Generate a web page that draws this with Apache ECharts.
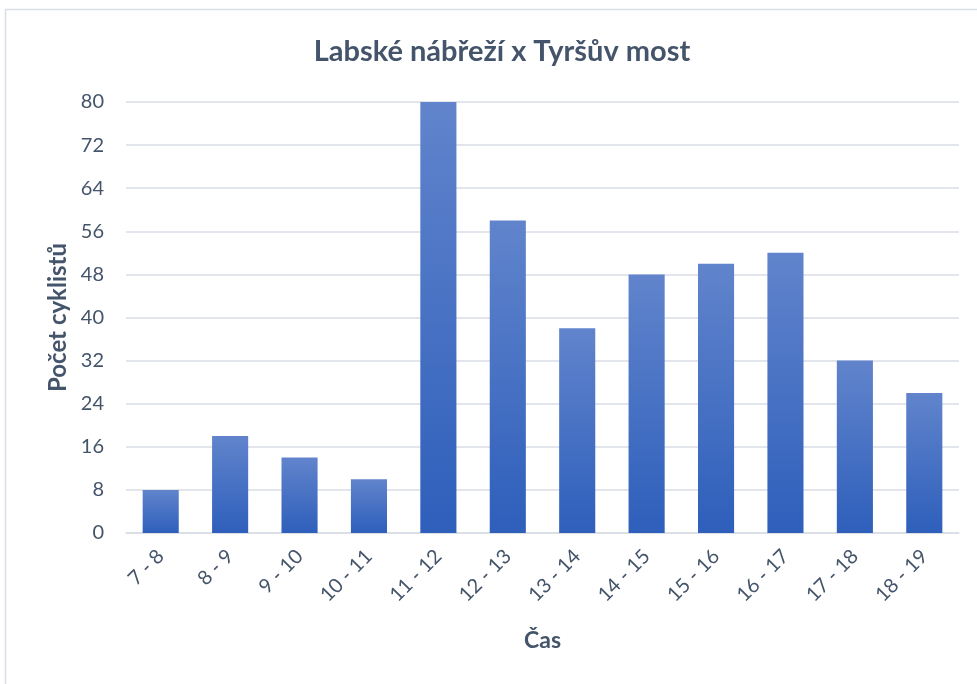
<!DOCTYPE html>
<html>
<head>
<meta charset="utf-8">
<script src="https://cdn.jsdelivr.net/npm/echarts@6/dist/echarts.min.js"></script>
<style>
  html, body { margin: 0; padding: 0; background: #fff; }
  #chart { width: 977px; height: 684px; }
</style>
</head>
<body>
<div id="chart"></div>
<script>
// data
var categories = ['7 - 8', '8 - 9', '9 - 10', '10 - 11', '11 - 12', '12 - 13', '13 - 14', '14 - 15', '15 - 16', '16 - 17', '17 - 18', '18 - 19']
var cyclists = [8, 18, 14, 10, 80, 58, 38, 48, 50, 52, 32, 26]
var yTicks = { min: 0, max: 80, interval: 8 }

var textColor = '#44546A'
var font = 'Lato, "Open Sans", sans-serif'

var chart = echarts.init(document.getElementById('chart'))
chart.setOption({
  animation: false,
  textStyle: { fontFamily: font },
  title: {
    text: 'Labské nábřeží x Tyršův most',
    left: 497,
    top: 32,
    textAlign: 'center',
    textStyle: { fontSize: 29, fontWeight: 'bold', color: textColor, fontFamily: font }
  },
  graphic: [{
    type: 'rect',
    shape: { x: 5.5, y: 9.5, width: 1000, height: 700 },
    style: { fill: 'none', stroke: '#D9DEE6', lineWidth: 1.5 },
    silent: true
  }],
  grid: {
    left: 126,
    right: 18,
    top: 102,
    bottom: 151
  },
  xAxis: {
    type: 'category',
    data: categories,
    name: 'Čas',
    nameLocation: 'middle',
    nameGap: 96,
    nameTextStyle: { fontSize: 23, fontWeight: 'bold', color: textColor },
    axisLine: { show: true, lineStyle: { color: '#D9DEE6', width: 1.5 } },
    axisTick: { show: false },
    axisLabel: {
      rotate: 45,
      fontSize: 20,
      color: textColor,
      margin: 20,
      interval: 0
    }
  },
  yAxis: {
    type: 'value',
    min: yTicks.min,
    max: yTicks.max,
    interval: yTicks.interval,
    name: 'Počet cyklistů',
    nameLocation: 'middle',
    nameGap: 54,
    nameRotate: 90,
    nameTextStyle: { fontSize: 24, fontWeight: 'bold', color: textColor },
    axisLine: { show: false },
    axisTick: { show: false },
    axisLabel: { fontSize: 20, color: textColor, margin: 22 },
    splitLine: { lineStyle: { color: '#D9DEE6', width: 1.5 } }
  },
  series: [{
    type: 'bar',
    data: cyclists,
    barWidth: '52%',
    itemStyle: {
      color: new echarts.graphic.LinearGradient(0, 0, 0, 1, [
        { offset: 0, color: '#6184CC' },
        { offset: 1, color: '#2E5FBB' }
      ])
    }
  }]
})
</script>
</body>
</html>
